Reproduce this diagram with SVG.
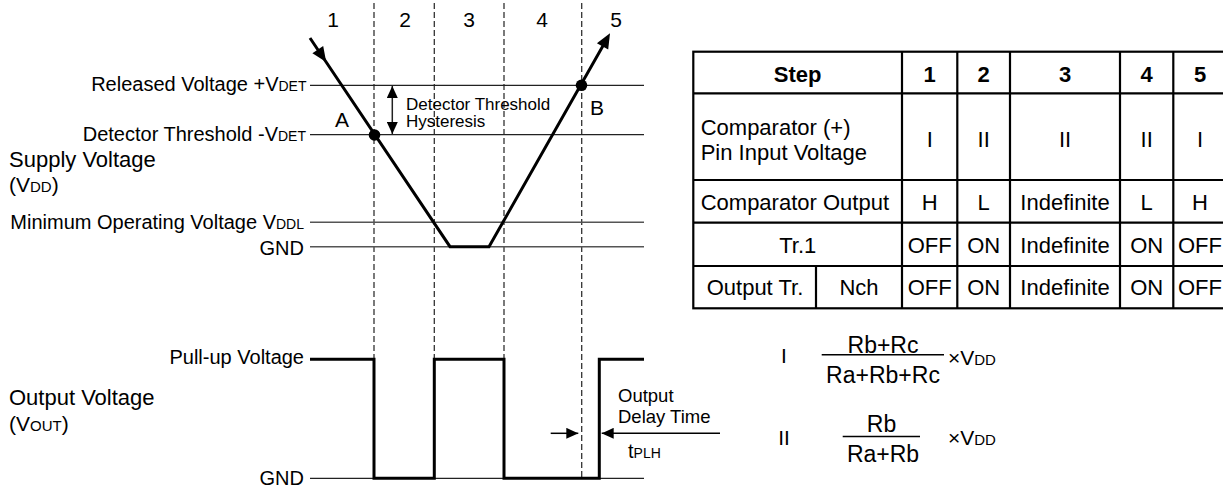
<svg xmlns="http://www.w3.org/2000/svg" width="1223" height="487" viewBox="0 0 1223 487">
<style>
text{font-family:"Liberation Sans",Arial,sans-serif;fill:#000}
.lbl{font-size:20px;text-anchor:end}
.big{font-size:22px}
.sub{font-size:14px}
.num{font-size:21px;text-anchor:middle}
.tb{font-size:22px;text-anchor:middle}
.tbl{font-size:22px}
.hdr{font-size:22px;font-weight:bold;text-anchor:middle}
.dash{stroke:#333;stroke-width:1.3;stroke-dasharray:6 3;fill:none}
.hl{stroke:#222;stroke-width:1.3;fill:none}
.gl{stroke:#555;stroke-width:1.6;fill:none}
.thick{stroke:#000;stroke-width:3;fill:none;stroke-linejoin:miter}
.grid{stroke:#000;stroke-width:2.2;fill:none}
.fr{font-size:23px;text-anchor:middle}
</style>
<defs>
<marker id="ah" viewBox="0 0 12 11" refX="12" refY="5.5" markerWidth="12" markerHeight="11" markerUnits="userSpaceOnUse" orient="auto">
<path d="M0,0 L12,5.5 L0,11 Z" fill="#000"/>
</marker>
</defs>
<rect width="1223" height="487" fill="#fff"/>

<g id="step-numbers">
<text class="num" x="333" y="27">1</text>
<text class="num" x="405" y="27">2</text>
<text class="num" x="469" y="27">3</text>
<text class="num" x="542" y="27">4</text>
<text class="num" x="616" y="27">5</text>
</g>

<g id="guides">
<line class="dash" x1="374" y1="3" x2="374" y2="359"/>
<line class="dash" x1="434.3" y1="3" x2="434.3" y2="359"/>
<line class="dash" x1="504" y1="3" x2="504" y2="359"/>
<line class="dash" x1="581.7" y1="3" x2="581.7" y2="478"/>
</g>

<g id="levels">
<line class="hl" x1="310" y1="85.3" x2="644" y2="85.3"/>
<line class="hl" x1="310" y1="134.7" x2="644" y2="134.7"/>
<line class="gl" x1="310" y1="222.3" x2="644" y2="222.3"/>
<line class="gl" x1="310" y1="246.7" x2="644" y2="246.7"/>
<line class="hl" x1="310" y1="478.3" x2="644" y2="478.3"/>
</g>

<g id="level-labels">
<text class="lbl" x="306.5" y="91" font-size="19.6">Released Voltage +V<tspan class="sub">DET</tspan></text>
<text class="lbl" x="306" y="140.5">Detector Threshold -V<tspan class="sub">DET</tspan></text>
<text class="lbl" x="304" y="228.5">Minimum Operating Voltage V<tspan class="sub">DDL</tspan></text>
<text class="lbl" x="304" y="255">GND</text>
<text class="lbl" x="304" y="364">Pull-up Voltage</text>
<text class="lbl" x="304" y="485">GND</text>
</g>

<g id="axis-titles">
<text class="big" x="9" y="167">Supply Voltage</text>
<text x="9" y="192" font-size="21">(V<tspan font-size="15">DD</tspan>)</text>
<text class="big" x="9" y="405">Output Voltage</text>
<text x="9" y="431" font-size="21">(V<tspan font-size="15">OUT</tspan>)</text>
</g>

<g id="supply-waveform">
<polyline class="thick" points="310,38 450,246.7 489,246.7 604,44"/>
<polygon points="326.2,62 323.2,46 312.4,53.2" fill="#000"/>
<polygon points="610,33.3 608.2,49.6 596.9,43.2" fill="#000"/>
</g>

<g id="point-A">
<circle cx="374.5" cy="135" r="5.8" fill="#000"/>
<text x="335" y="127" font-size="21">A</text>
</g>
<g id="point-B">
<circle cx="581.5" cy="85.3" r="5.8" fill="#000"/>
<text x="590" y="115" font-size="21">B</text>
</g>

<g id="hysteresis">
<line x1="392.3" y1="110" x2="392.3" y2="86" stroke="#222" stroke-width="1.5" marker-end="url(#ah)"/>
<line x1="392.3" y1="110" x2="392.3" y2="134" stroke="#222" stroke-width="1.5" marker-end="url(#ah)"/>
<text x="406" y="109.5" font-size="17">Detector Threshold</text>
<text x="406" y="127" font-size="17">Hysteresis</text>
</g>

<g id="output-waveform">
<polyline class="thick" points="310,359.3 374,359.3 374,478.3 434.3,478.3 434.3,359.3 504,359.3 504,478.3 599.3,478.3 599.3,359.3 644,359.3"/>
</g>

<g id="delay-time">
<line x1="550.7" y1="433.3" x2="578.3" y2="433.3" stroke="#000" stroke-width="1.5" marker-end="url(#ah)"/>
<line x1="720" y1="433.3" x2="601.7" y2="433.3" stroke="#000" stroke-width="1.5" marker-end="url(#ah)"/>
<text x="618" y="401.5" font-size="18.5">Output</text>
<text x="618" y="423" font-size="18.5">Delay Time</text>
<text x="628" y="458.3" font-size="20">t<tspan font-size="14">PLH</tspan></text>
</g>

<g id="table">
<rect class="grid" x="693.3" y="51.7" width="533" height="256.6"/>
<line class="grid" x1="693.3" y1="93.3" x2="1226.3" y2="93.3"/>
<line class="grid" x1="693.3" y1="180" x2="1226.3" y2="180"/>
<line class="grid" x1="693.3" y1="222.7" x2="1226.3" y2="222.7"/>
<line class="grid" x1="693.3" y1="266" x2="1226.3" y2="266"/>
<line class="grid" x1="902" y1="51.7" x2="902" y2="308.3"/>
<line class="grid" x1="957.3" y1="51.7" x2="957.3" y2="308.3"/>
<line class="grid" x1="1010" y1="51.7" x2="1010" y2="308.3"/>
<line class="grid" x1="1120" y1="51.7" x2="1120" y2="308.3"/>
<line class="grid" x1="1173.3" y1="51.7" x2="1173.3" y2="308.3"/>
<line class="grid" x1="816" y1="266" x2="816" y2="308.3"/>

<text class="hdr" x="797.7" y="81.7">Step</text>
<text class="hdr" x="929.7" y="81.7">1</text>
<text class="hdr" x="983.7" y="81.7">2</text>
<text class="hdr" x="1065" y="81.7">3</text>
<text class="hdr" x="1146.7" y="81.7">4</text>
<text class="hdr" x="1200" y="81.7">5</text>

<text class="tbl" x="700.7" y="135">Comparator (+)</text>
<text class="tbl" x="700.7" y="160">Pin Input Voltage</text>
<text class="tb" x="929.7" y="146.7">I</text>
<text class="tb" x="983.7" y="146.7">II</text>
<text class="tb" x="1065" y="146.7">II</text>
<text class="tb" x="1146.7" y="146.7">II</text>
<text class="tb" x="1200" y="146.7">I</text>

<text class="tbl" x="700.7" y="210">Comparator Output</text>
<text class="tb" x="929.7" y="210">H</text>
<text class="tb" x="983.7" y="210">L</text>
<text class="tb" x="1065" y="210">Indefinite</text>
<text class="tb" x="1146.7" y="210">L</text>
<text class="tb" x="1200" y="210">H</text>

<text class="tb" x="797.7" y="253">Tr.1</text>
<text class="tb" x="929.7" y="253">OFF</text>
<text class="tb" x="983.7" y="253">ON</text>
<text class="tb" x="1065" y="253">Indefinite</text>
<text class="tb" x="1146.7" y="253">ON</text>
<text class="tb" x="1200" y="253">OFF</text>

<text class="tb" x="755" y="295">Output Tr.</text>
<text class="tb" x="859" y="295">Nch</text>
<text class="tb" x="929.7" y="295">OFF</text>
<text class="tb" x="983.7" y="295">ON</text>
<text class="tb" x="1065" y="295">Indefinite</text>
<text class="tb" x="1146.7" y="295">ON</text>
<text class="tb" x="1200" y="295">OFF</text>
</g>

<g id="formula-I">
<text x="784" y="363.3" font-size="21" text-anchor="middle">I</text>
<text class="fr" x="883" y="352.7">Rb+Rc</text>
<line x1="821.7" y1="354.8" x2="944" y2="354.8" stroke="#000" stroke-width="1.5"/>
<text class="fr" x="883" y="383.3">Ra+Rb+Rc</text>
<text x="948" y="365" font-size="21">×V<tspan font-size="15">DD</tspan></text>
</g>

<g id="formula-II">
<text x="784" y="445" font-size="21" text-anchor="middle">II</text>
<text class="fr" x="881.5" y="431.7">Rb</text>
<line x1="842.7" y1="436.5" x2="920" y2="436.5" stroke="#000" stroke-width="1.5"/>
<text class="fr" x="883" y="461.7">Ra+Rb</text>
<text x="948" y="445" font-size="21">×V<tspan font-size="15">DD</tspan></text>
</g>
</svg>
